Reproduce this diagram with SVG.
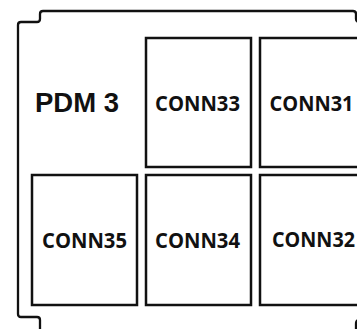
<svg xmlns="http://www.w3.org/2000/svg" width="357" height="329" viewBox="0 0 357 329">
<style>
.box{fill:#fff;stroke:#111;stroke-width:2.5}
.outline{fill:none;stroke:#111;stroke-width:2.3;stroke-linejoin:round}
.lbl{font-family:"Open Sans","Liberation Sans",sans-serif;font-weight:700;font-size:20.5px;fill:#111;text-anchor:middle}
.title{font-family:"Liberation Sans",Arial,sans-serif;font-weight:700;font-size:27.5px;fill:#111}
</style>
<rect width="357" height="329" fill="#fff"/>
<g id="outline">
<path class="outline" d="M 362,22 H 359 Q 356,22 356,19 V 14 Q 356,11 353,11 H 43 Q 40,11 40,14 V 19 Q 40,22 37,22 H 21 Q 18,22 18,25 V 314 Q 18,317 21,317 H 37 Q 40,317 40,320 V 332"/>
<path class="outline" d="M 356,332 V 324 Q 356,320 359,320 H 362"/>
</g>
<g id="pdm3"><text class="title" x="35" y="112">PDM 3</text></g>
<g id="conn33"><rect class="box" x="146" y="38" width="105" height="129"/><text class="lbl" x="197.5" y="111" textLength="85" lengthAdjust="spacingAndGlyphs">CONN33</text></g>
<g id="conn31"><rect class="box" x="260" y="38" width="105" height="129"/><text class="lbl" x="311.5" y="111" textLength="84" lengthAdjust="spacingAndGlyphs">CONN31</text></g>
<g id="conn35"><rect class="box" x="32" y="175" width="105" height="130"/><text class="lbl" x="84.5" y="248" textLength="85" lengthAdjust="spacingAndGlyphs">CONN35</text></g>
<g id="conn34"><rect class="box" x="146" y="175" width="105" height="130"/><text class="lbl" x="197.5" y="248" textLength="85" lengthAdjust="spacingAndGlyphs">CONN34</text></g>
<g id="conn32"><rect class="box" x="260" y="175" width="105" height="130"/><text class="lbl" x="313.5" y="247" textLength="83" lengthAdjust="spacingAndGlyphs">CONN32</text></g>
<g id="connectors"></g>
</svg>
